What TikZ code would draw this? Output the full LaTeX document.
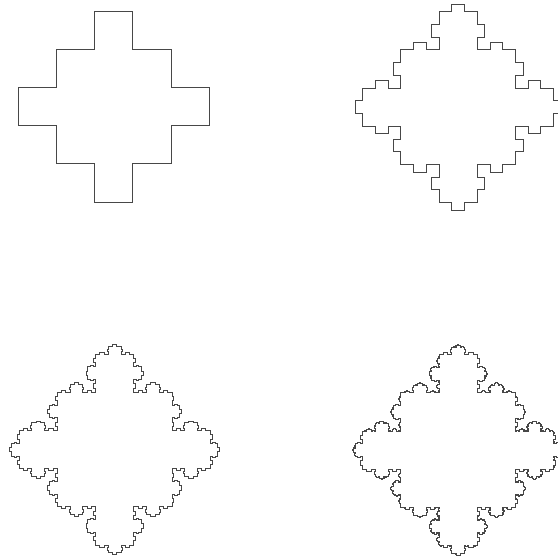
\documentclass[tikz,border=0pt]{standalone}
\makeatletter
\def\kochratio#1{\ifcase#1 0\or 0.333333\or 0.2\or 0.142857\or 0.111111\else 0.1\fi}
\gdef\kochpath{}
% \kochseg{k}{n}{x1}{y1}{x2}{y2}: k = level index, n = levels left
\def\kochseg#1#2#3#4#5#6{%
  \ifnum#2=0
    \xdef\kochpath{\kochpath --(#5,#6)}%
  \else
    \begingroup
    \edef\kknext{\the\numexpr#1+1\relax}%
    \edef\knnext{\the\numexpr#2-1\relax}%
    \edef\kr{\kochratio{#1}}%
    \pgfmathsetmacro\kdx{#5-#3}\pgfmathsetmacro\kdy{#6-#4}%
    \pgfmathsetmacro\kax{#3+\kdx/3}\pgfmathsetmacro\kay{#4+\kdy/3}%
    \pgfmathsetmacro\kdxx{#3+2*\kdx/3}\pgfmathsetmacro\kdyy{#4+2*\kdy/3}%
    \pgfmathsetmacro\kbx{\kax-\kr*\kdy}\pgfmathsetmacro\kby{\kay+\kr*\kdx}%
    \pgfmathsetmacro\kcx{\kdxx-\kr*\kdy}\pgfmathsetmacro\kcy{\kdyy+\kr*\kdx}%
    \edef\kochnext{%
      \noexpand\kochseg{\kknext}{\knnext}{#3}{#4}{\kax}{\kay}%
      \noexpand\kochseg{\kknext}{\knnext}{\kax}{\kay}{\kbx}{\kby}%
      \noexpand\kochseg{\kknext}{\knnext}{\kbx}{\kby}{\kcx}{\kcy}%
      \noexpand\kochseg{\kknext}{\knnext}{\kcx}{\kcy}{\kdxx}{\kdyy}%
      \noexpand\kochseg{\kknext}{\knnext}{\kdxx}{\kdyy}{#5}{#6}}%
    \expandafter\endgroup\kochnext
  \fi}
% \kochisland{levels}{cx}{cy}{half side}
\def\kochisland#1#2#3#4{%
  \pgfmathsetmacro\kxl{#2-#4}\pgfmathsetmacro\kxr{#2+#4}%
  \pgfmathsetmacro\kyt{#3+#4}\pgfmathsetmacro\kyb{#3-#4}%
  \gdef\kochpath{}%
  \kochseg{1}{#1}{\kxl}{\kyt}{\kxr}{\kyt}%
  \kochseg{1}{#1}{\kxr}{\kyt}{\kxr}{\kyb}%
  \kochseg{1}{#1}{\kxr}{\kyb}{\kxl}{\kyb}%
  \kochseg{1}{#1}{\kxl}{\kyb}{\kxl}{\kyt}%
  \edef\kochdraw{\noexpand\path[kochline] (\kxl,\kyt) \kochpath -- cycle;}%
  \kochdraw}
\makeatother
\begin{document}
\begin{tikzpicture}[x=1pt,y=1pt,
  kochline/.style={draw=black!72,line width=0.6pt,line join=miter}]
\useasboundingbox (0,0) rectangle (558,558);
\kochisland{1}{113.5}{451.5}{57.3}
\kochisland{2}{458}{451}{57.3}
\kochisland{3}{114.5}{108.5}{57.3}
\kochisland{4}{458}{108}{57.3}
\end{tikzpicture}
\end{document}
